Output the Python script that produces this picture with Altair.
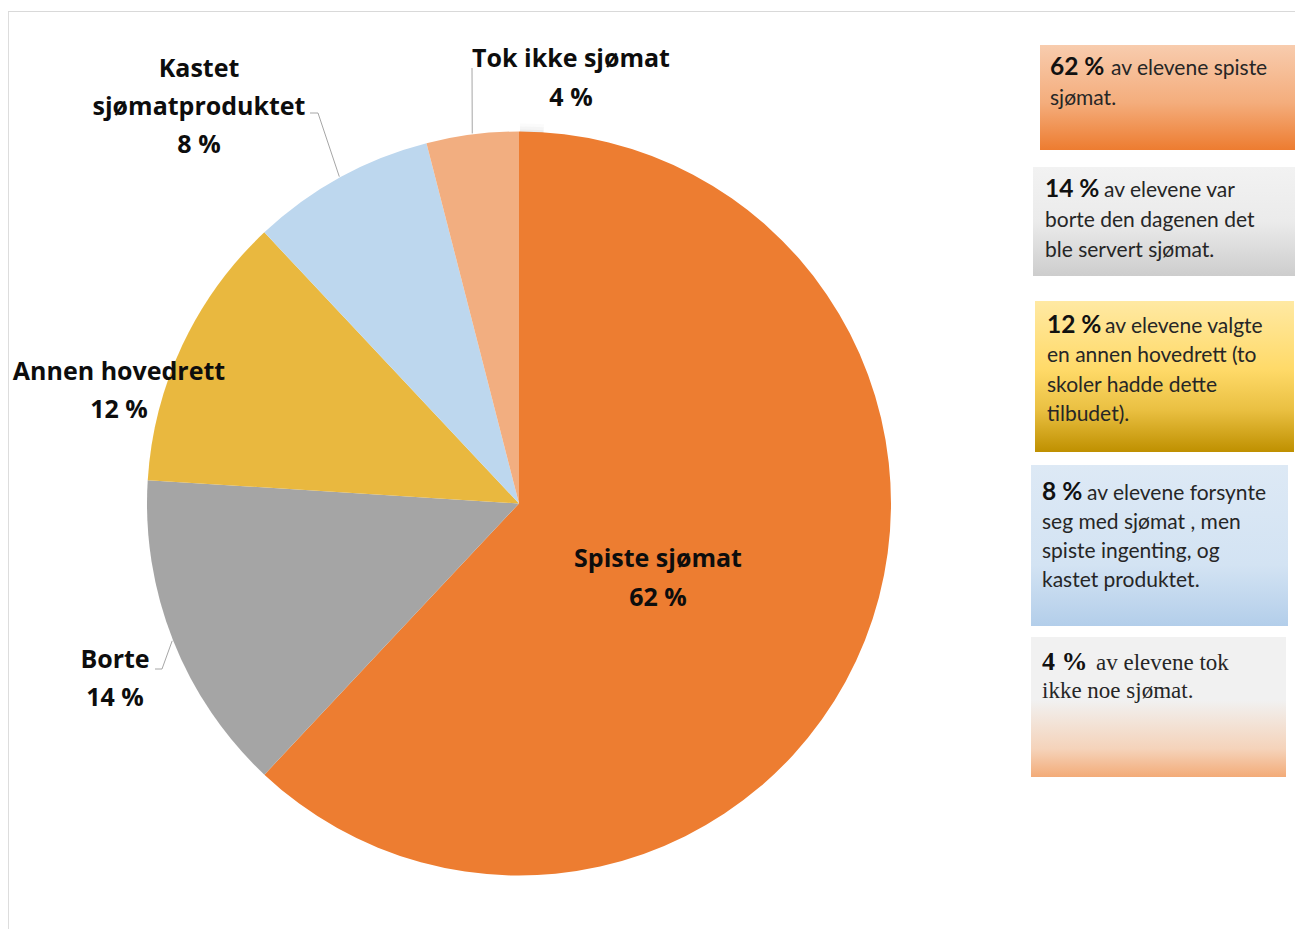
import math
import altair as alt
import pandas as pd

# ---- data ----
categories = ["Spiste sjømat", "Borte", "Annen hovedrett", "Kastet sjømatproduktet", "Tok ikke sjømat"]
values = [62, 14, 12, 8, 4]
colors = ["#ED7D31", "#A5A5A5", "#E9B83F", "#BDD7EE", "#F2AE80"]
pct_labels = ["62 %", "14 %", "12 %", "8 %", "4 %"]

box_bold = ["62 %", "14 %", "12 %", "8 %", "4 %"]
box_lines = [
    ["av elevene spiste", "sjømat."],
    ["av elevene var", "borte den dagenen det", "ble servert sjømat."],
    ["av elevene valgte", "en annen hovedrett (to", "skoler hadde dette", "tilbudet)."],
    ["av elevene forsynte", "seg med sjømat , men", "spiste ingenting, og", "kastet produktet."],
    ["av elevene tok", "ikke noe sjømat."],
]

# ---- layout ----
W, H = 1287, 918
OX, OY = 8, 11  # page offset of plot origin
CX, CY = 519 - OX, 503.5 - OY
R = 372
SANS = "Lato"
LABEL_FONT = "Open Sans"

df = pd.DataFrame({"cat": categories, "val": values, "idx": list(range(len(values)))})

base = alt.Chart(df)

# soft shadow around the pie
shadow_layers = []
for k, op in [(10, 0.03), (7, 0.045), (4, 0.07), (2, 0.09)]:
    shadow_layers.append(
        alt.Chart(pd.DataFrame({"v": [1]})).mark_arc(radius=R + k, color="#7f7f7f", opacity=op)
        .encode(theta=alt.Theta("v:Q"), x=alt.value(CX + 1), y=alt.value(CY + 2))
    )

pie = base.mark_arc(radius=R, strokeWidth=0).encode(
    theta=alt.Theta("val:Q", stack=True),
    order=alt.Order("idx:Q"),
    color=alt.Color("cat:N", scale=alt.Scale(domain=categories, range=colors), legend=None),
    x=alt.value(CX),
    y=alt.value(CY),
)

# leader lines: from label to the slice middle on the pie edge
total = sum(values)
cum = 0
mids = []
for v in values:
    mids.append((cum + v / 2) / total * 2 * math.pi)
    cum += v

def edge(i, rr=R + 1):
    a = mids[i]
    return CX + rr * math.sin(a), CY - rr * math.cos(a)

leader_pts = []
ex, ey = edge(1)
leader_pts += [("Borte", 0, 155 - OX, 669 - OY), ("Borte", 1, 162 - OX, 669 - OY), ("Borte", 2, ex, ey)]
ex, ey = edge(3)
leader_pts += [("Kastet", 0, 310 - OX, 113 - OY), ("Kastet", 1, 318 - OX, 113 - OY), ("Kastet", 2, ex, ey)]
ex, ey = edge(4)
leader_pts += [("Tok", 0, 472 - OX, 68 - OY), ("Tok", 1, ex, ey)]
ldf = pd.DataFrame(leader_pts, columns=["g", "o", "px", "py"])
leaders = alt.Chart(ldf).mark_line(color="#A6A6A6", strokeWidth=1).encode(
    x=alt.X("px:Q", scale=None, axis=None),
    y=alt.Y("py:Q", scale=None, axis=None),
    detail="g:N",
    order="o:Q",
)

def txt(s, x, y, size=24, weight="bold", font=SANS, align="center", color="#0D0D0D"):
    return alt.Chart(pd.DataFrame({"t": [s]})).mark_text(
        text=s, font=font, fontSize=size, fontWeight=weight, align=align,
        baseline="alphabetic", color=color,
    ).encode(x=alt.value(x - OX), y=alt.value(y - OY))

LS = 25
labels = [
    txt(categories[0], 658, 567, LS, font=LABEL_FONT), txt(pct_labels[0], 658, 606, LS, font=LABEL_FONT),
    txt("Borte", 115, 668, LS, font=LABEL_FONT), txt(pct_labels[1], 115, 706, LS, font=LABEL_FONT),
    txt("Annen hovedrett", 119, 380, LS, font=LABEL_FONT), txt(pct_labels[2], 119, 418, LS, font=LABEL_FONT),
    txt("Kastet", 199, 77, LS, font=LABEL_FONT), txt("sjømatproduktet", 199, 115, LS, font=LABEL_FONT),
    txt(pct_labels[3], 199, 153, LS, font=LABEL_FONT),
    txt("Tok ikke sjømat", 571, 67, LS, font=LABEL_FONT), txt(pct_labels[4], 571, 106, LS, font=LABEL_FONT),
]

# right-hand text boxes
boxes = [
    dict(x1=1040, x2=1298, y1=45, y2=150,
         stops=[(0, "#F8CCAE"), (0.55, "#F4AD7C"), (1, "#ED7C30")],
         tx=1050, ty=75, bw=61, font=SANS, nsize=21, bsize=24.5, lh=30),
    dict(x1=1033, x2=1298, y1=167, y2=276,
         stops=[(0, "#F2F2F2"), (0.5, "#EBEBEB"), (1, "#CDCDCD")],
         tx=1045, ty=197, bw=59, font=SANS, nsize=21, bsize=24.5, lh=30),
    dict(x1=1035, x2=1294, y1=301, y2=452,
         stops=[(0, "#FFE9A3"), (0.45, "#FFDA69"), (0.72, "#EAC042"), (1, "#BF9000")],
         tx=1047, ty=333, bw=58, font=SANS, nsize=21, bsize=24.5, lh=29.3),
    dict(x1=1031, x2=1288, y1=465, y2=626,
         stops=[(0, "#DDE9F5"), (0.62, "#D3E3F3"), (1, "#B3CEEA")],
         tx=1042, ty=500, bw=45, font=SANS, nsize=21, bsize=24.5, lh=29),
    dict(x1=1031, x2=1286, y1=637, y2=777,
         stops=[(0, "#F1F1F1"), (0.45, "#F1F1F1"), (0.8, "#F5D3BA"), (1, "#F3AB78")],
         tx=1042, ty=670, bw=54, font="Liberation Serif", nsize=23, bsize=26, lh=28),
]

box_layers = []
for i, b in enumerate(boxes):
    grad = alt.LinearGradient(
        gradient="linear", x1=0, y1=0, x2=0, y2=1,
        stops=[alt.GradientStop(offset=o, color=c) for o, c in b["stops"]],
    )
    bdf = pd.DataFrame({"a": [b["x1"] - OX], "b": [b["x2"] - OX], "c": [b["y1"] - OY], "d": [b["y2"] - OY]})
    box_layers.append(
        alt.Chart(bdf).mark_rect(color=grad).encode(
            x=alt.X("a:Q", scale=None, axis=None), x2="b:Q",
            y=alt.Y("c:Q", scale=None, axis=None), y2="d:Q",
        )
    )
    box_layers.append(txt(box_bold[i], b["tx"], b["ty"], size=b["bsize"], weight="bold",
                          font=b["font"], align="left", color="#111111"))
    for j, line in enumerate(box_lines[i]):
        x = b["tx"] + b["bw"] if j == 0 else b["tx"]
        box_layers.append(txt(line, x, b["ty"] + j * b["lh"], size=b["nsize"], weight="normal",
                              font=b["font"], align="left", color="#262626"))

# frame lines (top and left)
one = pd.DataFrame({"v": [0]})
frame_top = alt.Chart(one).mark_rule(color="#D9D9D9", strokeWidth=1).encode(
    x=alt.value(-1), x2=alt.value(W + 8), y=alt.value(0.5))
frame_left = alt.Chart(one).mark_rule(color="#D9D9D9", strokeWidth=1).encode(
    x=alt.value(-0.5), y=alt.value(0), y2=alt.value(H + 8))

chart = alt.layer(
    frame_top, frame_left, *shadow_layers, pie, leaders, *labels, *box_layers
).properties(
    width=W, height=H,
    padding={"left": 0, "top": 3, "right": 0, "bottom": 0},
    autosize=alt.AutoSizeParams(type="none"),
).configure_view(stroke=None).configure(background="white")

chart.save("out.html", embed_options={"renderer": "svg", "actions": False})
